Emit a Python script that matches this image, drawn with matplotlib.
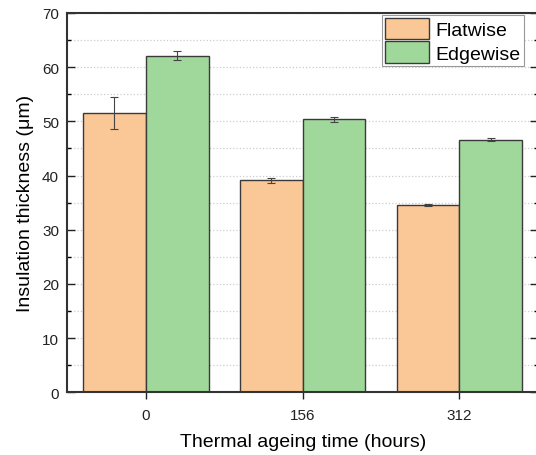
import numpy as np
import matplotlib
matplotlib.use("Agg")
import matplotlib.pyplot as plt
from matplotlib.ticker import MultipleLocator

plt.rcParams['font.family'] = ['Liberation Sans', 'DejaVu Sans']

# data
hours = ['0', '156', '312']
flatwise = [51.5, 39.1, 34.6]
flatwise_err = [3.0, 0.45, 0.2]
edgewise = [62.1, 50.4, 46.6]
edgewise_err = [0.8, 0.45, 0.3]

fig = plt.figure(figsize=(5.36, 4.56), dpi=100)
ax = fig.add_axes([0.1256, 0.1375, 0.878, 0.8318])

x = np.arange(len(hours))
w = 0.4
ax.bar(x - w / 2, flatwise, w, yerr=flatwise_err, color='#FAC796', edgecolor='#3a3a3a',
       lw=1.0, label='Flatwise', capsize=3,
       error_kw=dict(ecolor='#444444', elinewidth=0.8, capthick=0.8), zorder=2)
ax.bar(x + w / 2, edgewise, w, yerr=edgewise_err, color='#9FD89A', edgecolor='#3a3a3a',
       lw=1.0, label='Edgewise', capsize=3,
       error_kw=dict(ecolor='#444444', elinewidth=0.8, capthick=0.8), zorder=2)

ax.set_xlim(-0.5, 2.5)
ax.set_ylim(0, 70)
ax.set_xticks(x)
ax.set_xticklabels(hours)
ax.yaxis.set_major_locator(MultipleLocator(10))
ax.yaxis.set_minor_locator(MultipleLocator(5))

ax.grid(axis='y', which='both', linestyle=':', color='#cccccc', lw=0.9, zorder=0)
ax.set_axisbelow(True)

ax.tick_params(axis='y', which='major', direction='in', length=5.5, width=1,
               left=True, right=True, labelsize=11, pad=6, colors='#222222')
ax.tick_params(axis='y', which='minor', direction='in', length=3, width=1,
               left=True, right=True)
ax.tick_params(axis='x', which='major', direction='out', length=5, width=1,
               labelsize=11, pad=6.5, colors='#222222')
for s in ax.spines.values():
    s.set_linewidth(1.5)
    s.set_color('#333333')

ax.set_xlabel('Thermal ageing time (hours)', fontsize=14, labelpad=8)
ax.set_ylabel('Insulation thickness (μm)', fontsize=14, labelpad=6)

leg = ax.legend(loc='upper right', bbox_to_anchor=(0.970, 0.9947), borderaxespad=0,
                fontsize=14, fancybox=False, framealpha=1, edgecolor='#999999',
                handlelength=2.27, handleheight=1.3, handletextpad=0.35,
                labelspacing=0.12, borderpad=0.15)
leg.get_frame().set_linewidth(0.8)

fig.savefig('out.png', dpi=100)
